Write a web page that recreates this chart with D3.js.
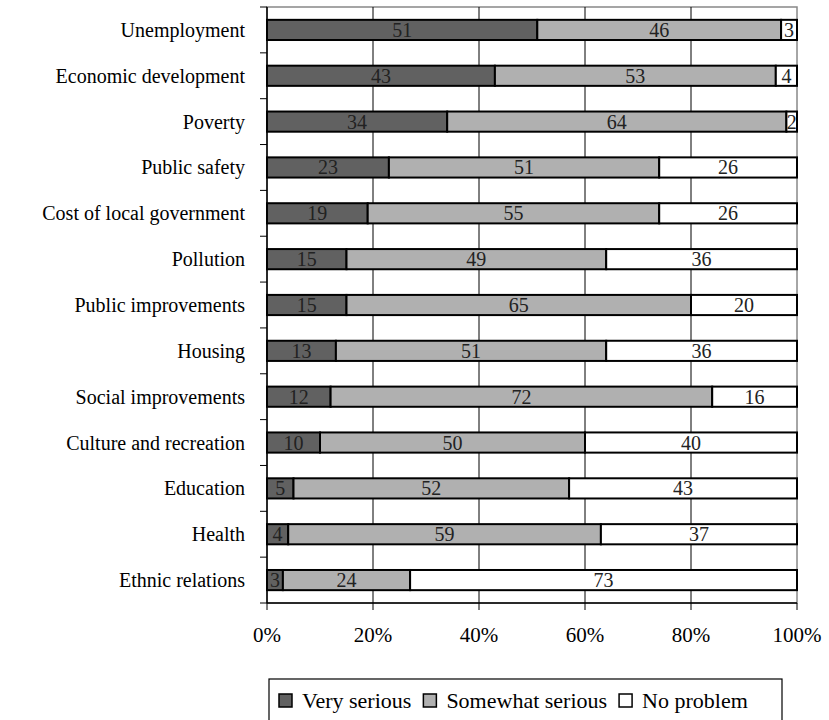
<!DOCTYPE html>
<html>
<head>
<meta charset="utf-8">
<script src="https://cdn.jsdelivr.net/npm/d3@7"></script>
<style>
  html, body { margin: 0; padding: 0; background: #fff; }
</style>
</head>
<body>
<svg id="chart" width="829" height="720"></svg>
<script>
const categories = ["Unemployment", "Economic development", "Poverty", "Public safety",
  "Cost of local government", "Pollution", "Public improvements", "Housing",
  "Social improvements", "Culture and recreation", "Education", "Health", "Ethnic relations"];
const verySerious     = [51, 43, 34, 23, 19, 15, 15, 13, 12, 10, 5, 4, 3];
const somewhatSerious = [46, 53, 64, 51, 55, 49, 65, 51, 72, 50, 52, 59, 24];
const noProblem       = [3, 4, 2, 26, 26, 36, 20, 36, 16, 40, 43, 37, 73];
const seriesNames = ["Very serious", "Somewhat serious", "No problem"];
const tickValues = [0, 20, 40, 60, 80, 100];

// pick the first installed serif face
function available(name) {
  const c = document.createElement("canvas").getContext("2d");
  const s = "Unemployment development 0123456789%";
  const res = ["monospace", "sans-serif"].map(base => {
    c.font = "40px " + base; const w0 = c.measureText(s).width;
    c.font = "40px '" + name + "', " + base; const w1 = c.measureText(s).width;
    return w0 !== w1;
  });
  return res[0] || res[1];
}
const serifCandidates = ["Liberation Serif", "Times New Roman", "Tinos", "DejaVu Serif", "Noto Serif", "FreeSerif", "Nimbus Roman", "Nimbus Roman No9 L"];
const found = serifCandidates.find(available);
const FONT = found ? "'" + found + "', serif" : "serif";

const colors = ["#616161", "#b0b0b0", "#ffffff"];
const keys = ["v", "s", "n"];
const rows = categories.map((c, i) => ({ cat: c, v: verySerious[i], s: somewhatSerious[i], n: noProblem[i] }));
const stacked = d3.stack().keys(keys)(rows);

const svg = d3.select("#chart");
const L = 267, R = 797, T = 7, B = 603;

const x = d3.scaleLinear().domain([0, 100]).range([L, R]);
const y = d3.scaleBand().domain(categories).range([T, B]).paddingInner(0.56).paddingOuter(0.28);
const yOuter = d3.scaleBand().domain(categories).range([T, B]);

svg.append("rect").attr("x", L).attr("y", T).attr("width", R - L).attr("height", B - T)
  .attr("fill", "none").attr("stroke", "#888").attr("stroke-width", 1.5);

svg.append("g").selectAll("line").data(tickValues.filter(d => d > 0 && d < 100)).join("line")
  .attr("x1", d => x(d)).attr("x2", d => x(d)).attr("y1", T).attr("y2", B)
  .attr("stroke", "#000").attr("stroke-width", 1);

const g = svg.append("g");
stacked.forEach((layer, li) => {
  g.append("g").selectAll("rect").data(layer).join("rect")
    .attr("x", d => x(d[0]))
    .attr("y", d => y(d.data.cat))
    .attr("width", d => x(d[1]) - x(d[0]))
    .attr("height", y.bandwidth())
    .attr("fill", colors[li])
    .attr("stroke", "#000").attr("stroke-width", 2);
});
stacked.forEach((layer, li) => {
  g.append("g").selectAll("text").data(layer).join("text")
    .attr("x", d => (x(d[0]) + x(d[1])) / 2)
    .attr("y", d => y(d.data.cat) + y.bandwidth() / 2 + 7)
    .attr("text-anchor", "middle")
    .attr("font-family", FONT)
    .attr("font-size", 20)
    .attr("fill", "#222")
    .text(d => d[1] - d[0]);
});

const ay = svg.append("g");
ay.append("line").attr("x1", L).attr("x2", L).attr("y1", T).attr("y2", B).attr("stroke", "#000").attr("stroke-width", 1.5);
const boundaries = categories.map(c => yOuter(c)).concat([B]);
ay.selectAll("line.t").data(boundaries).join("line").attr("class", "t")
  .attr("x1", L - 7).attr("x2", L).attr("y1", d => d).attr("y2", d => d)
  .attr("stroke", "#000").attr("stroke-width", 1);
ay.selectAll("text").data(categories).join("text")
  .attr("x", 245)
  .attr("y", d => y(d) + y.bandwidth() / 2 + 7)
  .attr("text-anchor", "end")
  .attr("font-family", FONT)
  .attr("font-size", 20)
  .attr("fill", "#000")
  .text(d => d);

const ax = svg.append("g");
ax.append("line").attr("x1", L).attr("x2", R).attr("y1", B).attr("y2", B).attr("stroke", "#000").attr("stroke-width", 1.5);
ax.selectAll("line.t").data(tickValues).join("line").attr("class", "t")
  .attr("x1", d => x(d)).attr("x2", d => x(d)).attr("y1", B).attr("y2", B + 7)
  .attr("stroke", "#000").attr("stroke-width", 1);
ax.selectAll("text").data(tickValues).join("text")
  .attr("x", d => x(d)).attr("y", 642)
  .attr("text-anchor", "middle").attr("font-family", FONT).attr("font-size", 21).attr("fill", "#000")
  .text(d => d + "%");

const lg = svg.append("g");
lg.append("rect").attr("x", 269).attr("y", 679).attr("width", 782 - 269).attr("height", 50)
  .attr("fill", "#fff").attr("stroke", "#000").attr("stroke-width", 1.2);
let lx = 279;
seriesNames.forEach((name, i) => {
  lg.append("rect").attr("x", lx).attr("y", 694).attr("width", 13).attr("height", 13)
    .attr("fill", colors[i]).attr("stroke", "#000").attr("stroke-width", 1.5);
  const t = lg.append("text").attr("x", lx + 23).attr("y", 708).attr("font-family", FONT)
    .attr("font-size", 22).attr("fill", "#000").text(name);
  lx = lx + 23 + t.node().getComputedTextLength() + 12;
});
</script>
</body>
</html>
